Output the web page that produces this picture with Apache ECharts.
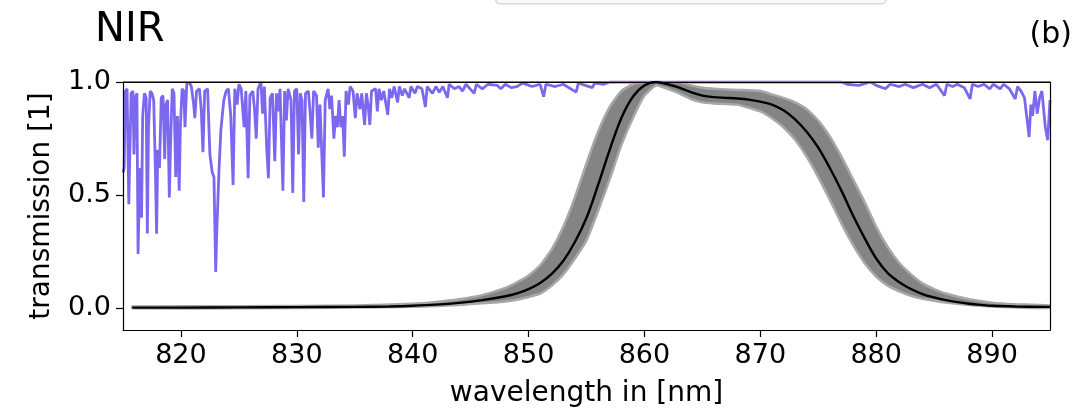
<!DOCTYPE html>
<html>
<head>
<meta charset="utf-8">
<script src="https://cdn.jsdelivr.net/npm/echarts@6/dist/echarts.min.js"></script>
<style>
html,body{margin:0;padding:0;background:#fff;}
#chart{width:1091px;height:413px;}
</style>
</head>
<body>
<div id="chart"></div>
<script>
// ---- data ----
const xTicks = [820, 830, 840, 850, 860, 870, 880, 890];
const yTicks = [0.0, 0.5, 1.0];

// mean filter transmission (black)
const filterNm = [815.8, 820, 825, 830, 835, 838, 840, 842, 844, 846, 848, 849, 850, 851, 852, 853, 854, 855, 856, 857, 858, 859, 860, 861, 862, 863, 864, 865, 866, 867, 868, 869, 870, 871, 872, 873, 874, 875, 876, 877, 878, 879, 880, 881, 882, 883, 884, 885, 886, 887, 888, 889, 890, 892, 895];
const filterMean = [0.003, 0.003, 0.004, 0.005, 0.006, 0.008, 0.011, 0.016, 0.024, 0.036, 0.053, 0.066, 0.085, 0.112, 0.152, 0.21, 0.293, 0.40, 0.545, 0.70, 0.84, 0.935, 0.985, 1.0, 0.99, 0.975, 0.955, 0.94, 0.933, 0.93, 0.927, 0.922, 0.913, 0.9, 0.875, 0.835, 0.78, 0.71, 0.62, 0.52, 0.41, 0.31, 0.22, 0.155, 0.115, 0.085, 0.063, 0.048, 0.036, 0.027, 0.02, 0.015, 0.011, 0.008, 0.006];

// envelope of the individual filter curves (grey band)
const bandNm = [815.8, 825, 835, 840, 842, 844, 846, 848, 849, 850, 851, 852, 853, 854, 855, 856, 857, 858, 859, 860, 861, 862, 863, 864, 865, 866, 868, 870, 871, 872, 873, 874, 875, 876, 877, 878, 879, 880, 881, 882, 883, 884, 885, 886, 888, 890, 892, 895];
const bandHigh = [0.008, 0.009, 0.012, 0.02, 0.028, 0.04, 0.058, 0.09, 0.115, 0.145, 0.19, 0.26, 0.36, 0.49, 0.64, 0.78, 0.89, 0.96, 0.99, 1.0, 1.0, 1.0, 1.0, 0.985, 0.975, 0.97, 0.965, 0.96, 0.945, 0.93, 0.91, 0.88, 0.83, 0.76, 0.67, 0.57, 0.47, 0.36, 0.27, 0.20, 0.15, 0.11, 0.085, 0.065, 0.04, 0.025, 0.018, 0.012];
const bandLow = [0.0, 0.0, 0.003, 0.007, 0.01, 0.015, 0.022, 0.03, 0.038, 0.05, 0.065, 0.10, 0.15, 0.22, 0.30, 0.43, 0.57, 0.72, 0.84, 0.94, 0.985, 0.97, 0.95, 0.925, 0.91, 0.905, 0.90, 0.87, 0.84, 0.80, 0.745, 0.67, 0.58, 0.48, 0.375, 0.28, 0.20, 0.14, 0.10, 0.075, 0.055, 0.042, 0.033, 0.025, 0.015, 0.008, 0.004, 0.002];

// atmospheric transmission (purple)
const atmoNm = [
  815.0, 815.1, 815.2, 815.35, 815.5, 815.6, 815.7, 815.85, 815.95, 816.05,
  816.2, 816.3, 816.4, 816.5, 816.6, 816.7, 816.85, 817.0, 817.1, 817.2,
  817.35, 817.5, 817.65, 817.8, 817.9, 818.0, 818.15, 818.3, 818.45, 818.6,
  818.7, 818.85, 819.0, 819.1, 819.25, 819.4, 819.55, 819.7, 819.85, 819.95,
  820.1, 820.25, 820.35, 820.5, 820.7, 820.9, 821.1, 821.2, 821.35, 821.6,
  821.75, 821.9, 822.05, 822.3, 822.5, 822.7, 822.85, 823.0, 823.1, 823.2,
  823.3, 823.45, 823.7, 823.9, 824.1, 824.3, 824.5, 824.65, 824.85, 825.0,
  825.2, 825.45, 825.6, 825.8, 825.95, 826.2, 826.35, 826.5, 826.65, 826.9,
  827.05, 827.2, 827.4, 827.55, 827.7, 827.9, 828.1, 828.25, 828.4, 828.55,
  828.8, 828.95, 829.1, 829.25, 829.5, 829.65, 829.8, 830.0, 830.15, 830.3,
  830.45, 830.6, 830.75, 831.0, 831.15, 831.3, 831.45, 831.7, 831.85, 832.0,
  832.15, 832.3, 832.45, 832.7, 832.85, 833.0, 833.2, 833.35, 833.5, 833.65,
  833.8, 833.95, 834.1, 834.25, 834.45, 834.6, 834.85, 835.05, 835.2, 835.45,
  835.6, 835.85, 836.0, 836.15, 836.3, 836.45, 836.8, 836.95, 837.1, 837.3,
  837.5, 837.85, 838.0, 838.2, 838.4, 838.7, 838.85, 839.1, 839.3, 839.7,
  839.85, 840.2, 840.4, 840.8, 841.1, 841.25, 841.7, 842.0, 842.3, 842.6,
  843.0, 843.15, 843.6, 844.0, 844.3, 844.6, 845.3, 845.5, 846.0, 846.5,
  847.3, 847.6, 848.0, 848.5, 849.0, 849.5, 850.3, 851.0, 851.3, 851.5,
  852.3, 853.0, 854.1, 854.3, 855.5, 855.7, 856.5, 857.0, 877.0, 877.5,
  878.5, 879.5, 880.0, 880.8, 881.2, 882.0, 882.5, 883.2, 884.0, 884.6,
  885.2, 885.9, 886.1, 886.6, 887.0, 887.6, 888.1, 888.3, 888.8, 889.3,
  889.8, 890.1, 890.7, 891.0, 891.5, 892.0, 892.2, 892.5, 892.8, 893.2,
  893.35, 893.5, 893.7, 893.9, 894.1, 894.3, 894.6, 894.8, 895.0
];
const atmoTrans = [
  0.60, 0.62, 0.96, 0.97, 0.46, 0.46, 0.95, 0.96, 0.68, 0.93,
  0.95, 0.24, 0.50, 0.62, 0.40, 0.85, 0.95, 0.93, 0.33, 0.80,
  0.96, 0.95, 0.92, 0.60, 0.33, 0.70, 0.62, 0.93, 0.94, 0.66,
  0.90, 0.92, 0.49, 0.72, 0.97, 0.95, 0.58, 0.85, 0.52, 0.80,
  0.97, 0.96, 0.80, 0.99, 1.0, 0.98, 0.90, 0.84, 0.96, 0.97,
  0.88, 0.69, 0.96, 0.97, 0.68, 0.60, 0.58, 0.16, 0.35, 0.35,
  0.63, 0.79, 0.92, 0.96, 0.97, 0.85, 0.545, 0.97, 0.90, 0.99,
  0.97, 0.80, 0.96, 0.575, 0.94, 0.96, 0.88, 0.75, 0.97, 1.0,
  0.86, 0.98, 0.71, 0.575, 0.93, 0.95, 0.65, 0.95, 0.87, 0.97,
  0.52, 0.96, 0.83, 0.97, 0.92, 0.51, 0.96, 0.97, 0.68, 0.95,
  0.92, 0.47, 0.95, 0.96, 0.86, 0.75, 0.96, 0.94, 0.71, 0.90,
  0.69, 0.49, 0.92, 0.97, 0.88, 0.94, 0.75, 0.85, 0.80, 0.92,
  0.80, 0.85, 0.67, 0.96, 0.90, 0.98, 0.96, 0.84, 0.95, 0.88,
  0.95, 0.81, 0.95, 0.90, 0.81, 0.96, 0.97, 0.87, 0.97, 0.92,
  0.96, 0.855, 0.97, 0.93, 0.98, 0.91, 0.98, 0.94, 0.97, 0.93,
  0.98, 0.95, 0.98, 0.97, 0.89, 0.98, 0.95, 0.98, 0.955, 0.98,
  0.93, 0.99, 0.97, 0.98, 0.96, 0.99, 0.95, 0.99, 0.97, 0.99,
  0.985, 0.97, 0.99, 0.975, 0.98, 0.995, 0.98, 0.99, 0.935, 0.99,
  0.98, 0.99, 0.955, 0.995, 0.975, 0.995, 0.99, 1.0, 1.0, 0.99,
  0.985, 1.0, 0.985, 0.97, 0.99, 0.98, 0.99, 0.975, 0.99, 0.975,
  0.99, 0.94, 0.99, 0.98, 0.99, 0.975, 0.925, 0.99, 0.98, 0.99,
  0.97, 0.99, 0.97, 0.99, 0.97, 0.925, 0.98, 0.96, 0.93, 0.757,
  0.90, 0.85, 0.96, 0.86, 0.93, 0.96, 0.80, 0.743, 0.92
];

// reference level (green)
const refNm = [815, 895];
const refLevel = [1.0, 1.0];

// ---- chart ----
const FONT = 'DejaVu Sans';
const zip = (a, b) => a.map((v, i) => [v, b[i]]);

const chart = echarts.init(document.getElementById('chart'), null, {renderer: 'canvas'});

const frameAxisX = {
  type: 'value', min: 815, max: 895, position: 'top', z: 10,
  axisLine: {show: true, onZero: false, lineStyle: {color: '#000', width: 1.2}},
  axisTick: {show: false}, axisLabel: {show: false}, splitLine: {show: false}
};
const frameAxisY = {
  type: 'value', min: -0.096, max: 1.0, position: 'right', z: 10,
  axisLine: {show: true, onZero: false, lineStyle: {color: '#000', width: 1.2}},
  axisTick: {show: false}, axisLabel: {show: false}, splitLine: {show: false}
};

const option = {
  animation: false,
  backgroundColor: '#fff',
  textStyle: {fontFamily: FONT},
  title: [
    {text: 'NIR', left: 90, top: 6, textStyle: {fontFamily: FONT, fontSize: 40, fontWeight: 'normal', color: '#000'}},
    {text: '(b)', right: 14, top: 15, textStyle: {fontFamily: FONT, fontSize: 30, fontWeight: 'normal', color: '#000'}}
  ],
  graphic: [
    {type: 'rect', left: 495, top: -12, shape: {width: 390, height: 15, r: 4},
     style: {fill: '#fafafa', stroke: '#d9d9d9', lineWidth: 1.5}, z: 100}
  ],
  grid: {left: 123, right: 41, top: 82, bottom: 83, show: false, containLabel: false, outerBoundsMode: 'none'},
  xAxis: [
    {
      type: 'value', min: 815, max: 895, z: 10,
      axisLine: {show: true, onZero: false, lineStyle: {color: '#000', width: 1.2}},
      axisTick: {show: true, length: 7, lineStyle: {color: '#000', width: 1.2}, customValues: xTicks},
      axisLabel: {show: true, customValues: xTicks, fontFamily: FONT, fontSize: 27, color: '#000', margin: 12},
      splitLine: {show: false},
      name: 'wavelength in [nm]', nameLocation: 'middle', nameGap: 50,
      nameTextStyle: {fontFamily: FONT, fontSize: 28, color: '#000'}
    },
    frameAxisX
  ],
  yAxis: [
    {
      type: 'value', min: -0.096, max: 1.0, z: 10,
      axisLine: {show: true, onZero: false, lineStyle: {color: '#000', width: 1.2}},
      axisTick: {show: true, length: 7, lineStyle: {color: '#000', width: 1.2}, customValues: yTicks},
      axisLabel: {show: true, customValues: yTicks, fontFamily: FONT, fontSize: 27, color: '#000', margin: 12,
                  formatter: v => Number(v).toFixed(1)},
      splitLine: {show: false},
      name: 'transmission [1]', nameLocation: 'middle', nameRotate: 90, nameGap: 67,
      nameTextStyle: {fontFamily: FONT, fontSize: 28, color: '#000'}
    },
    frameAxisY
  ],
  series: [
    {
      name: 'atmosphere', type: 'line', xAxisIndex: 0, yAxisIndex: 0,
      data: zip(atmoNm, atmoTrans), showSymbol: false, symbol: 'none',
      lineStyle: {color: '#7b68ee', width: 2.8}, clip: true, z: 2
    },
    {
      name: 'reference', type: 'line', xAxisIndex: 0, yAxisIndex: 0,
      data: zip(refNm, refLevel), showSymbol: false, symbol: 'none',
      lineStyle: {color: '#22c022', width: 2}, clip: true, z: 3
    },
    {
      name: 'filter spread', type: 'custom', xAxisIndex: 0, yAxisIndex: 0,
      data: [[855, 0.5]], z: 4, clip: true,
      renderItem: function (params, api) {
        const pts = [];
        for (let i = 0; i < bandNm.length; i++) pts.push(api.coord([bandNm[i], bandHigh[i]]));
        for (let i = bandNm.length - 1; i >= 0; i--) pts.push(api.coord([bandNm[i], bandLow[i]]));
        return {
          type: 'polygon',
          shape: {points: pts, smooth: 0.15},
          style: {fill: '#848484', stroke: '#a8a8a8', lineWidth: 2.5}
        };
      }
    },
    {
      name: 'filter mean', type: 'line', xAxisIndex: 0, yAxisIndex: 0,
      data: zip(filterNm, filterMean), showSymbol: false, symbol: 'none',
      smooth: 0.35,
      lineStyle: {color: '#000', width: 2.4}, clip: true, z: 5
    }
  ]
};
chart.setOption(option);
</script>
</body>
</html>
